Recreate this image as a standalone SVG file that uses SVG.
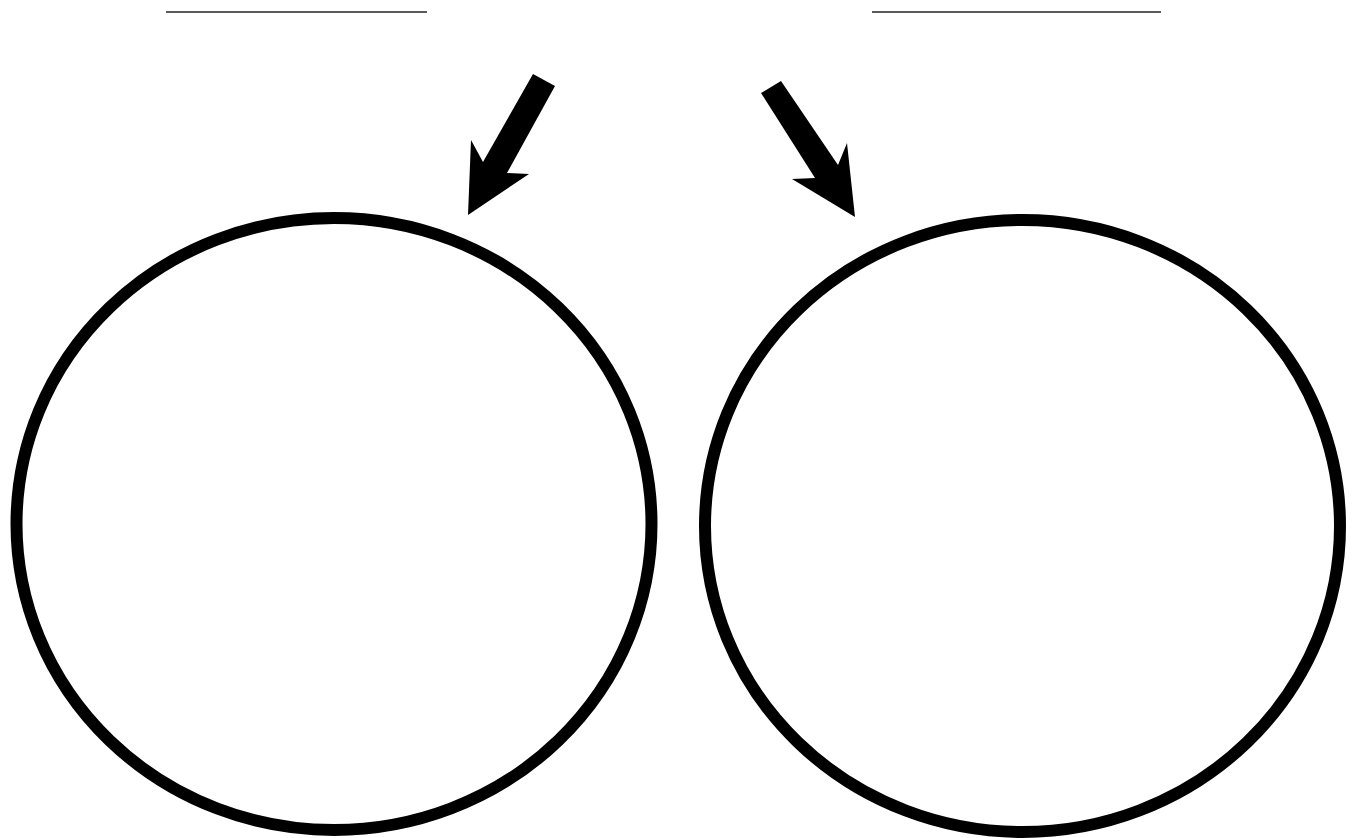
<svg xmlns="http://www.w3.org/2000/svg" width="1354" height="838" viewBox="0 0 1354 838">
<style>
.ring{fill:none;stroke:#000;stroke-width:12}
.blank{stroke:#222;stroke-width:1.6}
.arrow{fill:#000}
</style>
<rect width="1354" height="838" fill="#fff"/>
<g id="blank-left"><line class="blank" x1="166" y1="12" x2="427" y2="12"/></g>
<g id="blank-right"><line class="blank" x1="872" y1="12" x2="1161" y2="12"/></g>
<g id="circle-left"><ellipse class="ring" cx="334" cy="524" rx="317.5" ry="306"/></g>
<g id="circle-right"><ellipse class="ring" cx="1022.5" cy="526" rx="317.5" ry="306"/></g>
<g id="connectors">
<polygon class="arrow" points="533,74 555,86 507,173 529,174 468,215 471,140 483,162"/>
<polygon class="arrow" points="781,81 761,93 815,178 792,179 855,217 847,143 838,165"/>
</g>
</svg>
